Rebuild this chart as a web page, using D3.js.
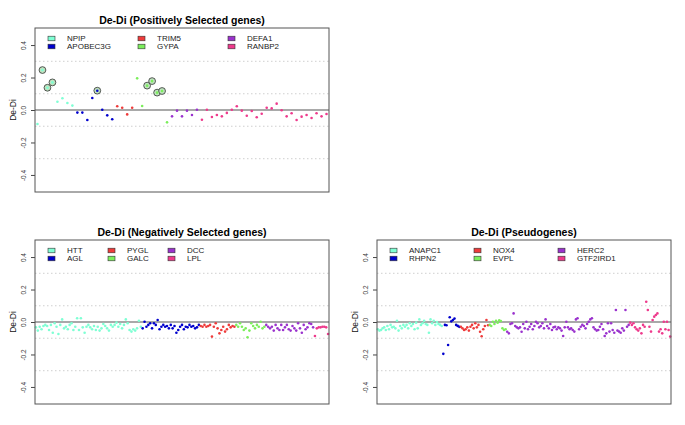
<!DOCTYPE html>
<html>
<head>
<meta charset="utf-8">
<script src="https://cdn.jsdelivr.net/npm/d3@7"></script>
<style>
  body { margin: 0; background: #fff; }
  text { font-family: "Liberation Sans", Arial, sans-serif; }
</style>
</head>
<body>
<script>
// ---- data: De-Di per site, grouped by gene ----
const posGenes = ["NPIP", "APOBEC3G", "TRIM5", "GYPA", "DEFA1", "RANBP2"];
const npip = [-0.086, 0.246, 0.137, 0.17, 0.051, 0.072, 0.043, 0.027];
const apobec3g = [-0.016, -0.016, -0.062, 0.074, 0.119, 0.002, -0.033, -0.057];
const trim5 = [0.023, 0.014, -0.027, 0.014];
const gypa = [0.195, 0.025, 0.15, 0.178, 0.107, 0.117, -0.076];
const defa1 = [-0.039, -0.004, -0.039, -0.004, -0.031, 0.002];
const ranbp2 = [-0.06, 0.002, -0.043, -0.031, -0.039, -0.018, 0.002, 0.023, -0.004, -0.035, -0.006, -0.045, -0.023,
  0.014, 0.01, 0.039, -0.002, -0.039, -0.02, -0.062, -0.041, -0.031, -0.049, -0.02, -0.039, -0.025];
// points drawn with a ring (1-based position in the panel)
const posCircled = [2, 3, 4, 13, 23, 24, 25, 26];

const negGenes = ["HTT", "AGL", "PYGL", "GALC", "DCC", "LPL"];
const htt = [-0.033, -0.053, -0.029, -0.045, -0.025, -0.018, -0.025, -0.049, -0.018, -0.066, -0.008, -0.029, -0.074,
  -0.018, 0.016, -0.039, -0.029, -0.045, -0.018, -0.008, -0.049, -0.029, 0.023, -0.049, 0.023, -0.033, -0.066,
  -0.029, -0.018, -0.033, -0.045, -0.025, -0.049, -0.029, -0.053, -0.039, -0.012, -0.025, -0.039, -0.053, -0.018,
  -0.029, -0.018, -0.004, -0.029, -0.012, -0.039, -0.018, 0.016, -0.008, -0.049, -0.059, -0.045, -0.053, -0.039,
  0.008, -0.029];
const agl = [-0.039, 0.002, -0.029, -0.018, -0.008, -0.039, -0.008, -0.018, 0.012, -0.045, -0.029, -0.018, -0.029,
  -0.025, -0.039, -0.018, -0.039, -0.025, -0.066, -0.049, -0.029, -0.018, -0.045, -0.029, -0.033, -0.018, -0.029,
  -0.025, -0.039, -0.033, -0.018];
const pygl = [-0.025, -0.029, -0.018, -0.029, -0.025, -0.018, -0.09, -0.029, -0.008, -0.039, -0.07, -0.049, -0.029,
  -0.059, -0.045, -0.018, -0.033, -0.025, -0.029];
const galc = [-0.018, -0.029, -0.008, -0.029, -0.049, -0.039, -0.094, -0.053, -0.008, -0.025, -0.039, -0.018, -0.029,
  0.002, -0.039, -0.029];
const dcc = [-0.018, -0.029, -0.039, -0.029, -0.053, -0.018, -0.039, -0.049, -0.018, -0.049, -0.033, -0.018, -0.045,
  -0.053, -0.025, -0.039, -0.053, -0.008, -0.039, -0.066, -0.018, -0.045, -0.033, -0.008, -0.012, -0.033];
const lpl = [-0.086, -0.039, -0.033, -0.033, -0.029, -0.029, -0.033, -0.074];

const pseudoGenes = ["ANAPC1", "RHPN2", "NOX4", "EVPL", "HERC2", "GTF2IRD1"];
const anapc1 = [-0.045, -0.053, -0.049, -0.039, -0.033, -0.049, -0.025, -0.045, -0.018, -0.033, -0.029, -0.039,
  0.008, -0.053, -0.025, -0.039, -0.018, -0.029, -0.018, -0.039, -0.008, -0.025, -0.012, -0.045, -0.004, -0.039,
  0.016, -0.018, -0.008, 0.008, -0.012, -0.018, -0.066, 0.016, -0.008, 0.008, -0.018, 0.0, -0.012, -0.018, -0.025];
const rhpn2 = [-0.196, -0.018, -0.02, -0.142, 0.029, 0.004, 0.012, 0.021, -0.018, -0.024, -0.03];
const nox4 = [-0.03, -0.039, -0.049, -0.045, -0.033, -0.053, -0.029, -0.018, -0.039, -0.008, -0.033, -0.018, -0.06,
  -0.088, -0.045, -0.025, 0.012, -0.02];
const evpl = [-0.018, -0.025, 0.002, -0.012, 0.008, -0.004, 0.01, 0.006, -0.039, -0.049, -0.045];
const herc2 = [-0.06, -0.07, -0.012, -0.008, 0.053, -0.025, -0.033, -0.039, -0.033, -0.06, -0.012, -0.039, 0.002,
  -0.045, -0.029, -0.012, -0.045, -0.025, 0.002, -0.008, -0.033, -0.025, -0.008, -0.039, 0.016, -0.025, -0.039,
  -0.012, -0.049, -0.033, -0.029, -0.045, -0.033, -0.039, -0.053, -0.086, -0.033, 0.002, -0.033, -0.045,
  -0.039, -0.049, -0.059, 0.016, 0.023, -0.045, -0.029, -0.018, -0.025, -0.039, -0.012, 0.002, 0.016, 0.023,
  -0.033, -0.045, -0.053, -0.049, -0.029, -0.012, -0.045, -0.086, -0.07, -0.008, -0.059, -0.008, -0.049, -0.066,
  0.074, -0.053, -0.059, -0.066, -0.039, -0.053, 0.074, -0.029, -0.018];
const gtf2ird1 = [-0.004, -0.018, -0.008, -0.033, -0.045, -0.053, -0.039, -0.07, -0.018, -0.029, 0.125, 0.074,
  -0.029, -0.059, 0.012, 0.033, 0.043, 0.053, -0.059, -0.045, -0.07, 0.002, -0.045, 0.002, -0.049, -0.09];

const yTicks = [-0.4, -0.2, 0.0, 0.2, 0.4];
const gridLines = [-0.3, -0.1, 0.1, 0.3];

// ---- styles / layout ----
const colors = ["#7fffd4", "#0000cd", "#ee3b3b", "#7cee5c", "#9a32cd", "#ee3a8c"];
const width = 685;
const height = 425;

const svg = d3.select("body").append("svg").attr("width", width).attr("height", height);

const panels = [
  { title: "De-Di (Positively Selected genes)", genes: posGenes,
    series: [npip, apobec3g, trim5, gypa, defa1, ranbp2], circled: posCircled, ox: 0, oy: 0, legendGap: 90 },
  { title: "De-Di (Negatively Selected genes)", genes: negGenes,
    series: [htt, agl, pygl, galc, dcc, lpl], circled: [], ox: 0, oy: 212, legendGap: 60 },
  { title: "De-Di (Pseudogenes)", genes: pseudoGenes,
    series: [anapc1, rhpn2, nox4, evpl, herc2, gtf2ird1], circled: [], ox: 342, oy: 212, legendGap: 84 },
];

panels.forEach(drawPanel);

function drawPanel(p) {
  const left = 35, top = 28, w = 294, h = 164;
  const g = svg.append("g").attr("transform", `translate(${p.ox},${p.oy})`);

  const points = [];
  p.series.forEach((vals, gi) => vals.forEach((v) => points.push({ gene: gi, value: v })));
  points.forEach((d, i) => (d.idx = i + 1));

  const x = d3.scaleLinear().domain([0.5, points.length + 0.5]).range([left, left + w]);
  const y = d3.scaleLinear().domain([-0.505, 0.505]).range([top + h, top]);

  // dotted grid
  g.selectAll(".grid")
    .data(gridLines)
    .enter()
    .append("line")
    .attr("x1", left).attr("x2", left + w)
    .attr("y1", (d) => y(d)).attr("y2", (d) => y(d))
    .attr("stroke", "#cfcfcf")
    .attr("stroke-dasharray", "1.5,2.5");

  // zero line
  g.append("line")
    .attr("x1", left).attr("x2", left + w)
    .attr("y1", y(0)).attr("y2", y(0))
    .attr("stroke", "#555").attr("stroke-width", 1.2);

  // y axis
  const yAxis = d3.axisLeft(y).tickValues(yTicks).tickSize(4).tickFormat((d) => d.toFixed(1));
  const ax = g.append("g").attr("transform", `translate(${left},0)`).call(yAxis);
  ax.select(".domain").remove();
  ax.selectAll("line").attr("stroke", "#444");
  ax.selectAll("text")
    .attr("x", 0).attr("dy", 0)
    .attr("transform", "translate(-9.5,0) rotate(-90)")
    .attr("text-anchor", "middle")
    .attr("fill", "#333")
    .attr("font-size", "6.5px")
    .attr("font-family", "Liberation Sans, Arial, sans-serif");

  g.append("text")
    .attr("transform", `translate(16, ${top + h / 2}) rotate(-90)`)
    .attr("text-anchor", "middle")
    .attr("font-size", "8.5px")
    .attr("fill", "#111")
    .text("De-Di");

  // rings behind highlighted points
  g.selectAll(".ring")
    .data(points.filter((d) => p.circled.includes(d.idx)))
    .enter()
    .append("circle")
    .attr("cx", (d) => x(d.idx))
    .attr("cy", (d) => y(d.value))
    .attr("r", 3.4)
    .attr("fill", "#bfe2bf")
    .attr("stroke", "#333")
    .attr("stroke-width", 0.8);

  // points
  g.selectAll(".pt")
    .data(points)
    .enter()
    .append("circle")
    .attr("cx", (d) => x(d.idx))
    .attr("cy", (d) => y(d.value))
    .attr("r", 1.3)
    .attr("fill", (d) => colors[d.gene]);

  // box
  g.append("rect")
    .attr("x", left).attr("y", top)
    .attr("width", w).attr("height", h)
    .attr("fill", "none")
    .attr("stroke", "#555");

  // title
  g.append("text")
    .attr("x", left + w / 2)
    .attr("y", 24)
    .attr("text-anchor", "middle")
    .attr("font-weight", "bold")
    .attr("font-size", "10.5px")
    .text(p.title);

  // legend, filled column by column
  const leg = g.selectAll(".leg")
    .data(p.genes)
    .enter()
    .append("g")
    .attr("transform", (d, i) =>
      `translate(${left + 13 + Math.floor(i / 2) * p.legendGap}, ${top + 10.5 + (i % 2) * 8})`);
  leg.append("rect")
    .attr("x", 0).attr("y", -2.3)
    .attr("width", 7).attr("height", 4.6)
    .attr("fill", (d, i) => colors[i])
    .attr("stroke", "#333")
    .attr("stroke-width", 0.6);
  leg.append("text")
    .attr("x", 19)
    .attr("dy", "0.35em")
    .attr("font-size", "8px")
    .attr("fill", "#222")
    .text((d) => d);
}
</script>
</body>
</html>
